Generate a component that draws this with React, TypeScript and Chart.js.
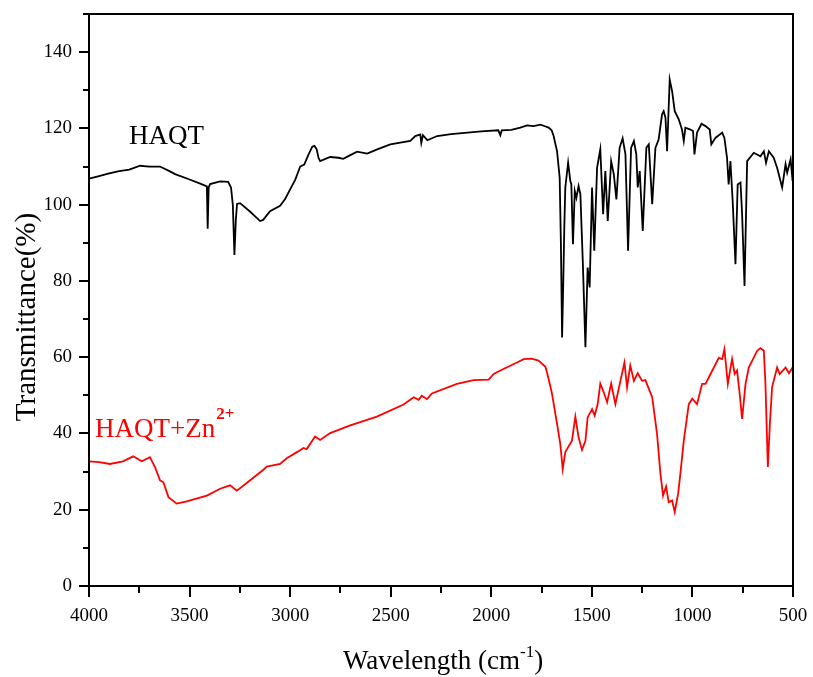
import React, { useEffect, useRef } from "react";
import { Chart, registerables } from "chart.js";

Chart.register(...registerables);

// HAQT spectrum (wavenumber cm-1, transmittance %)
const haqtWavenumbers = [
  4000, 3950, 3900, 3850, 3800, 3746, 3700, 3647, 3600, 3572, 3500, 3450, 3423, 3414, 3410, 3405, 3398, 3348, 3308, 3294,
  3285, 3277, 3270, 3264, 3249, 3200, 3149, 3134, 3100, 3050, 3025, 3000, 2975, 2950, 2930, 2910, 2890, 2879, 2868, 2859,
  2851, 2801, 2760, 2736, 2701, 2667, 2617, 2567, 2502, 2403, 2378, 2353, 2348, 2340, 2318, 2269, 2200, 2119, 2050, 1965,
  1955, 1948, 1900, 1856, 1822, 1790, 1756, 1730, 1715, 1700, 1690, 1673, 1660, 1654, 1648, 1642, 1637, 1632, 1618, 1607,
  1602, 1594, 1585, 1577, 1566, 1557, 1545, 1532, 1521, 1511, 1499, 1488, 1474, 1458, 1444, 1433, 1421, 1404, 1391, 1378,
  1362, 1347, 1333, 1320, 1305, 1291, 1279, 1272, 1262, 1247, 1229, 1217, 1200, 1184, 1168, 1151, 1143, 1134, 1126, 1113,
  1101, 1088, 1068, 1052, 1043, 1035, 1010, 997, 990, 977, 955, 935, 914, 906, 886, 852, 841, 828, 820, 811,
  800, 786, 775, 761, 753, 741, 728, 695, 662, 645, 634, 620, 596, 579, 554, 537, 529, 512, 502,
];
const haqtValues = [
  106.8, 107.5, 108.2, 108.8, 109.2, 110.2, 110, 110, 108.8, 108, 106.6, 105.6, 105, 104.8, 93.7, 104.5, 105.4, 106.1, 106, 104.5,
  100, 86.8, 96, 100.2, 100.4, 98.2, 95.7, 96, 98.3, 99.7, 101.5, 104, 106.5, 110, 110.5, 113, 115.2, 115.4, 114.5, 112.3,
  111.4, 112.5, 112.3, 112, 113, 113.9, 113.4, 114.5, 115.8, 116.7, 118, 118.4, 116.2, 118.2, 116.9, 118, 118.5, 118.9, 119.2, 119.5,
  118.2, 119.5, 119.6, 120.2, 120.8, 120.6, 121, 120.5, 120.2, 119.5, 118, 114, 107.1, 90, 65.2, 80, 94, 104.5, 111, 106.2,
  105.3, 89.6, 103.6, 101.8, 104.9, 102.7, 85, 62.6, 83.5, 78.3, 104.5, 87.9, 109.7, 114.5, 97.5, 108.8, 95.7, 111.4, 108, 101.4,
  114.9, 117.4, 113.2, 87.9, 114.9, 116.7, 113.2, 104.5, 108.8, 93.1, 114.9, 115.8, 100.1, 114.9, 117.1, 123.7, 124.5, 122.8, 114, 132.8,
  129.8, 124.5, 122.4, 119.7, 116.7, 120.2, 119.7, 119.3, 113.2, 118.9, 121.2, 120.6, 119.7, 115.8, 117.5, 118.9, 117.5, 112.3, 105.3, 111.4,
  101, 84.4, 105.3, 105.8, 97.5, 78.7, 111.4, 113.6, 112.7, 114, 111, 114, 112.3, 109.7, 104.5, 110.6, 108.4, 111.9, 106.2,
];

// HAQT+Zn2+ spectrum
const znWavenumbers = [
  4000, 3950, 3896, 3831, 3780, 3738, 3697, 3672, 3647, 3630, 3605, 3564, 3514, 3414, 3348, 3299, 3265, 3216, 3133, 3116,
  3050, 3017, 2960, 2934, 2918, 2876, 2851, 2801, 2701, 2569, 2436, 2386, 2361, 2345, 2320, 2295, 2171, 2088, 2013, 1988,
  1955, 1872, 1839, 1800, 1765, 1731, 1723, 1707, 1698, 1673, 1657, 1645, 1632, 1599, 1582, 1566, 1549, 1532, 1521, 1499,
  1486, 1471, 1458, 1441, 1424, 1404, 1383, 1358, 1338, 1325, 1309, 1291, 1272, 1250, 1234, 1200, 1176, 1159, 1146, 1131,
  1118, 1101, 1088, 1071, 1060, 1043, 1018, 1001, 977, 952, 935, 910, 869, 852, 841, 824, 803, 790, 778, 765,
  753, 736, 720, 678, 662, 645, 637, 625, 615, 604, 579, 566, 537, 520, 500,
];
const znValues = [
  32.7, 32.5, 32, 32.7, 34, 32.7, 33.8, 31.2, 27.7, 27.2, 23.3, 21.6, 22.2, 23.7, 25.5, 26.4, 25, 27, 30.5, 31.3,
  32, 33.5, 35.3, 36.2, 35.9, 39.2, 38.3, 40.1, 42.1, 44.4, 47.6, 49.5, 48.8, 49.9, 49, 50.5, 53, 54, 54.1, 55.6,
  56.5, 58.6, 59.5, 59.6, 59.1, 57.5, 56, 52.5, 50.4, 42.5, 37.3, 30.7, 35.1, 38.1, 44.4, 39, 35.7, 38.1, 44.2, 46.4,
  44.7, 47.7, 53.1, 50.8, 48.2, 53.1, 47.7, 53.8, 58.6, 52.1, 57.8, 53.8, 55.8, 53.8, 54, 49.5, 39.9, 29.4, 23.7, 26.1,
  22, 22.4, 19.4, 24.2, 29.4, 38.1, 47.7, 49.1, 47.7, 53, 53, 55.6, 59.8, 59.5, 62.1, 53, 59.5, 55.6, 56.5, 50.4,
  43.8, 53, 57.3, 61.7, 62.4, 61.7, 53, 31.2, 42.5, 52.1, 57.3, 55.6, 57.3, 55.8, 57.5,
];

const xMin = 500;
const xMax = 4000;
const xMajorStep = 500;
const xMinorStep = 250;
const yMin = 0;
const yMax = 150;
const yMajorStep = 20;
const yMinorStep = 10;

const SERIF = '"Liberation Serif", "Times New Roman", serif';

const decorPlugin = {
  id: "decor",
  afterDraw(chart: any) {
    const { ctx, chartArea: a } = chart;
    const xs = chart.scales.x;
    const ys = chart.scales.y;
    ctx.save();
    ctx.strokeStyle = "#000";
    ctx.lineWidth = 2;
    ctx.strokeRect(a.left, a.top, a.right - a.left, a.bottom - a.top);
    // x ticks
    for (let v = xMin; v <= xMax; v += xMinorStep) {
      const px = Math.round(xs.getPixelForValue(v));
      const len = v % xMajorStep === 0 ? 11 : 7;
      ctx.beginPath();
      ctx.moveTo(px, a.bottom);
      ctx.lineTo(px, a.bottom + len);
      ctx.stroke();
    }
    // y ticks
    for (let v = yMin; v <= yMax; v += yMinorStep) {
      const py = Math.round(ys.getPixelForValue(v));
      const len = v % yMajorStep === 0 ? 10 : 6;
      ctx.beginPath();
      ctx.moveTo(a.left, py);
      ctx.lineTo(a.left - len, py);
      ctx.stroke();
    }

    ctx.textAlign = "left";
    ctx.textBaseline = "alphabetic";

    // Series labels
    ctx.fillStyle = "#000";
    ctx.font = `27px ${SERIF}`;
    ctx.fillText("HAQT", 129, 144);

    ctx.fillStyle = "#ff0000";
    ctx.font = `27px ${SERIF}`;
    const base = "HAQT+Zn";
    ctx.fillText(base, 95, 437);
    const bw = ctx.measureText(base).width;
    ctx.font = `bold 17px ${SERIF}`;
    ctx.fillText("2+", 95 + bw + 1, 419);

    // X axis title
    ctx.fillStyle = "#000";
    ctx.font = `27px ${SERIF}`;
    const xt = "Wavelength (cm";
    const x0 = 343;
    ctx.fillText(xt, x0, 669);
    const xtw = ctx.measureText(xt).width;
    ctx.font = `17px ${SERIF}`;
    ctx.fillText("-1", x0 + xtw, 657);
    const sw = ctx.measureText("-1").width;
    ctx.font = `27px ${SERIF}`;
    ctx.fillText(")", x0 + xtw + sw, 669);

    // Y axis title
    ctx.save();
    ctx.translate(35, 317);
    ctx.rotate(-Math.PI / 2);
    ctx.textAlign = "center";
    ctx.font = `29px ${SERIF}`;
    ctx.fillText("Transmittance(%)", 0, 0);
    ctx.restore();

    ctx.restore();
  },
};

export default function App() {
  const canvasRef = useRef<HTMLCanvasElement | null>(null);

  useEffect(() => {
    if (!canvasRef.current) return;
    const haqtData = haqtWavenumbers.map((w, i) => ({ x: w, y: haqtValues[i] }));
    const znData = znWavenumbers.map((w, i) => ({ x: w, y: znValues[i] }));
    const chart = new Chart(canvasRef.current, {
      type: "line",
      data: {
        datasets: [
          {
            label: "HAQT",
            data: haqtData,
            borderColor: "#000000",
            borderWidth: 1.8,
            pointRadius: 0,
            tension: 0,
            fill: false,
          },
          {
            label: "HAQT+Zn2+",
            data: znData,
            borderColor: "#ff0000",
            borderWidth: 1.8,
            pointRadius: 0,
            tension: 0,
            fill: false,
          },
        ],
      },
      options: {
        animation: false,
        responsive: true,
        maintainAspectRatio: false,
        layout: { padding: { top: 14, right: 20, left: 0, bottom: 0 } },
        plugins: {
          legend: { display: false },
          tooltip: { enabled: false },
          title: { display: false },
        },
        scales: {
          x: {
            type: "linear",
            reverse: true,
            min: xMin,
            max: xMax,
            grid: { display: false, drawTicks: false },
            border: { display: false },
            ticks: {
              stepSize: xMajorStep,
              includeBounds: false,
              color: "#000",
              font: { family: SERIF, size: 19 },
              padding: 19,
              maxRotation: 0,
              callback: (v: any) => String(v),
            },
            afterFit: (s: any) => {
              s.height = 91;
              s.paddingLeft = 0;
              s.paddingRight = 0;
            },
          },
          y: {
            type: "linear",
            min: yMin,
            max: yMax,
            grid: { display: false, drawTicks: false },
            border: { display: false },
            ticks: {
              stepSize: yMajorStep,
              includeBounds: false,
              color: "#000",
              font: { family: SERIF, size: 19 },
              padding: 17,
              callback: (v: any) => String(v),
            },
            afterFit: (s: any) => {
              s.width = 89;
              s.paddingTop = 0;
              s.paddingBottom = 0;
            },
          },
        },
      },
      plugins: [decorPlugin],
    });
    return () => chart.destroy();
  }, []);

  return (
    <div style={{ position: "absolute", left: 0, top: 0, width: 813, height: 677, background: "#fff" }}>
      <canvas ref={canvasRef} />
    </div>
  );
}
